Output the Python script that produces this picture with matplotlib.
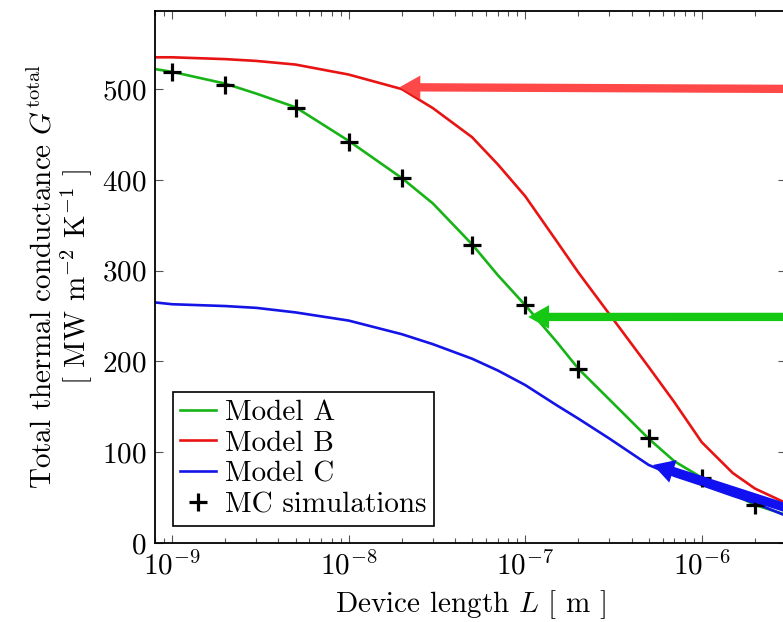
import matplotlib
matplotlib.use("Agg")
import matplotlib.pyplot as plt
from matplotlib.ticker import LogLocator, NullFormatter

plt.rcParams["font.family"] = "serif"
plt.rcParams["font.serif"] = ["cmr10"]
plt.rcParams["mathtext.fontset"] = "cm"
plt.rcParams["axes.formatter.use_mathtext"] = True

# curves (device length in m, conductance in MW m^-2 K^-1)
L_curve = [8e-10, 1e-9, 2e-9, 3e-9, 5e-9, 1e-8, 2e-8, 3e-8, 5e-8, 7e-8, 1e-7, 1.5e-7,
           2e-7, 3e-7, 5e-7, 7e-7, 1e-6, 1.5e-6, 2e-6, 3e-6]
model_a = [522, 519, 506, 495, 480, 443, 402, 374, 329, 295, 262, 222,
           192, 158, 115, 90, 72, 54, 42, 31]
model_b = [535, 535, 533, 531, 527, 516, 500, 479, 447, 417, 382, 333,
           298, 252, 194, 155, 111, 77, 60, 44]
model_c = [265, 263, 261, 259, 254, 245, 230, 219, 203, 190, 174, 152,
           137, 115, 86, 74, 64, 52, 44, 30]

# Monte Carlo points
L_mc = [1e-9, 2e-9, 5e-9, 1e-8, 2e-8, 5e-8, 1e-7, 2e-7, 5e-7, 1e-6, 2e-6]
g_mc = [519, 505, 479, 442, 402, 328, 262, 192, 116, 72, 42]

x_ticks = [1e-9, 1e-8, 1e-7, 1e-6]
y_ticks = [0, 100, 200, 300, 400, 500]

fig = plt.figure(figsize=(7.83, 6.22), dpi=100)
ax = fig.add_axes([155/783, 79/622, 631/783, 532/622])

ax.plot(L_curve, model_a, color="#17b317", lw=1.9, label="Model A")
ax.plot(L_curve, model_b, color="#e81414", lw=1.9, label="Model B")
ax.plot(L_curve, model_c, color="#1414e6", lw=1.9, label="Model C")
ax.plot(L_mc, g_mc, ls="none", marker="+", ms=13, mew=2.3, color="black",
        label="MC simulations")

ax.set_xscale("log")
ax.set_xlim(8e-10, 3e-6)
ax.set_ylim(0, 586)
ax.set_xticks(x_ticks)
ax.set_yticks(y_ticks)
ax.xaxis.set_minor_locator(LogLocator(base=10, subs=range(2, 10), numticks=20))
ax.xaxis.set_minor_formatter(NullFormatter())

ax.tick_params(which="both", direction="in", top=True, right=True, labelsize=21,
               width=0.8, color="#555555")
ax.tick_params(which="major", length=6, pad=6)
ax.tick_params(which="minor", length=3.5)
for s in ax.spines.values():
    s.set_linewidth(1.3)

ax.set_xlabel("Device length $L$ [ m ]", fontsize=21, labelpad=5)
ax.set_ylabel("Total thermal conductance $G^{\\mathrm{total}}$\n[ MW m$^{-2}$ K$^{-1}$ ]",
              fontsize=21, labelpad=6, linespacing=1.0)

# pointer arrows coming in from the right
ax.annotate("", xy=(1.94e-8, 502), xycoords="data", xytext=(1.12, 0.853),
            textcoords="axes fraction",
            arrowprops=dict(width=6, headwidth=17, headlength=15, shrink=0,
                            color="#ff4848", lw=0))
ax.annotate("", xy=(1.04e-7, 249), xycoords="data", xytext=(1.12, 0.425),
            textcoords="axes fraction",
            arrowprops=dict(width=6, headwidth=17, headlength=15, shrink=0,
                            color="#14c814", lw=0))
ax.annotate("", xy=(5.3e-7, 86), xycoords="data", xytext=(1.12, 0.02),
            textcoords="axes fraction",
            arrowprops=dict(width=6.5, headwidth=17, headlength=15, shrink=0,
                            color="#1010f0", lw=0))

leg = ax.legend(loc="lower left", fontsize=21, frameon=True, fancybox=False,
                edgecolor="black", framealpha=1, handlelength=1.25,
                handletextpad=0.3, labelspacing=0.15, borderpad=0.25,
                borderaxespad=0.6)
leg.get_frame().set_linewidth(1.2)

fig.savefig("out.png", dpi=100)
